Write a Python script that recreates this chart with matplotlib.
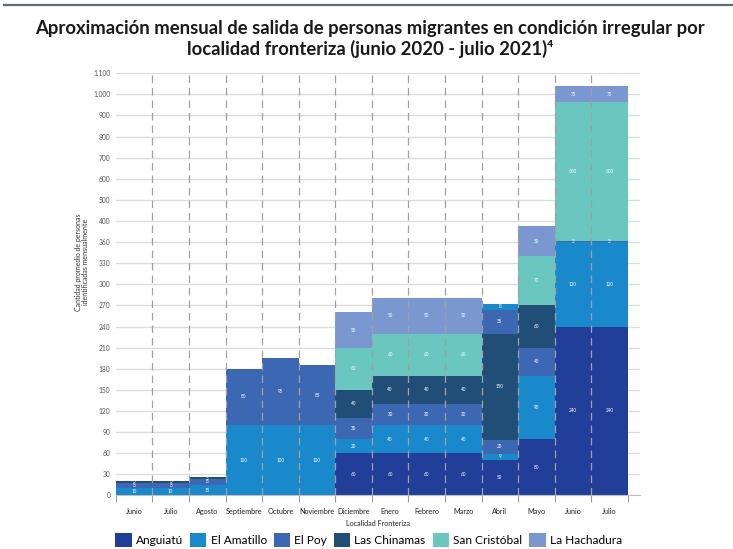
import numpy as np
import matplotlib
matplotlib.use("Agg")
import matplotlib.pyplot as plt
from matplotlib.patches import Patch
from matplotlib.lines import Line2D

plt.rcParams['font.family'] = ['Lato', 'DejaVu Sans']

months = ["Junio", "Julio", "Agosto", "Septiembre", "Octubre", "Noviembre", "Diciembre",
          "Enero", "Febrero", "Marzo", "Abril", "Mayo", "Junio", "Julio"]

anguiatu      = [0, 0, 0, 0, 0, 0, 60, 60, 60, 60, 50, 80, 240, 240]
el_amatillo   = [10, 10, 15, 100, 100, 100, 20, 40, 40, 40, 9, 90, 120, 120]
el_poy        = [8, 8, 8, 80, 95, 85, 30, 30, 30, 30, 20, 40, 3, 3]
las_chinamas  = [3, 3, 3, 0, 0, 0, 40, 40, 40, 40, 150, 60, 0, 0]
san_cristobal = [0, 0, 0, 0, 0, 0, 60, 60, 60, 60, 0, 70, 600, 600]
la_hachadura  = [0, 0, 0, 0, 0, 0, 50, 50, 50, 50, 0, 50, 75, 75]
# extra segments stacked on top in April (as drawn in the original)
extra_el_poy      = [0] * 10 + [35] + [0] * 3
extra_el_amatillo = [0] * 10 + [8] + [0] * 3

ytick_vals = [0, 30, 60, 90, 120, 150, 180, 210, 240, 270, 300, 330, 360,
              400, 500, 600, 700, 800, 900, 1000, 1100]
ytick_labels = ["0", "30", "60", "90", "120", "150", "180", "210", "240", "270", "300",
                "330", "360", "400", "500", "600", "700", "800", "900", "1.000", "1.100"]

colors = {
    "Anguiatú": "#213f98",
    "El Amatillo": "#1a89cb",
    "El Poy": "#3c67b2",
    "Las Chinamas": "#214e77",
    "San Cristóbal": "#69c7bf",
    "La Hachadura": "#7a97d0",
}

layers = [
    ("Anguiatú", anguiatu),
    ("El Amatillo", el_amatillo),
    ("El Poy", el_poy),
    ("Las Chinamas", las_chinamas),
    ("San Cristóbal", san_cristobal),
    ("La Hachadura", la_hachadura),
    ("El Poy", extra_el_poy),
    ("El Amatillo", extra_el_amatillo),
]

idx = np.arange(len(ytick_vals), dtype=float)
tv = np.array(ytick_vals, dtype=float)

def fwd(v):
    return np.interp(v, tv, idx)

def inv(u):
    return np.interp(u, idx, tv)

fig = plt.figure(figsize=(7.33, 5.49), dpi=100)
ax = fig.add_axes([0.158, 0.0978, 0.715, 0.7687])
ax.set_yscale('function', functions=(fwd, inv))

x = np.arange(len(months))
bottom = np.zeros(len(months))
for name, vals in layers:
    vals = np.array(vals, dtype=float)
    ax.bar(x, vals, bottom=bottom, width=1.0, color=colors[name], zorder=2, linewidth=0)
    for i, v in enumerate(vals):
        if v > 0:
            b, t = bottom[i], bottom[i] + v
            ymid = inv((fwd(b) + fwd(t)) / 2)
            ax.text(x[i], ymid, f"{int(v)}", ha='center', va='center',
                    color='white', fontsize=3.3, zorder=4)
    bottom += vals

ax.set_xlim(-0.5, len(months) - 0.5 + 0.33)
ax.set_ylim(0, 1100)
ax.set_yticks(ytick_vals)
ax.set_yticklabels(ytick_labels)
ax.set_xticks(x)
ax.set_xticklabels(months)
ax.set_xticks(np.arange(-0.5, len(months)), minor=True)
ax.tick_params(axis='x', which='major', length=0, labelsize=5.2, pad=9, colors='#222222')
ax.tick_params(axis='x', which='minor', length=5, width=0.8, color='#9a9a9a')
ax.tick_params(axis='y', length=0, labelsize=4.8, pad=4, labelcolor='#555555')

ax.yaxis.grid(True, color='#dcdcdc', linewidth=1.0, zorder=0)
ax.set_axisbelow(True)
for s in ['top', 'right', 'left']:
    ax.spines[s].set_visible(False)
ax.spines['bottom'].set_color('#bfbfbf')

ax.vlines(np.arange(0.5, len(months) - 1), 0, 1100, colors='#a0a0a0', linewidth=0.9,
          linestyles=(0, (6, 4)), zorder=3)

ax.set_xlabel("Localidad Fronteriza", fontsize=5.2, labelpad=4, color='#222222')
fig.text(0.112, 1 - 262 / 549, "Cantidad promedio de personas\nidentificadas mensualmente",
         rotation=90, ha='center', va='center', fontsize=5, color='#333333',
         linespacing=1.1)

fig.text(0.505, 1 - 39 / 549,
         "Aproximación mensual de salida de personas migrantes en condición irregular por\n"
         "localidad fronteriza (junio 2020 - julio 2021)\u2074",
         ha='center', va='center', fontsize=13.3, fontweight='bold', color='#1a1a1a',
         linespacing=1.2)

fig.add_artist(Line2D([0.005, 1.0], [1 - 4.5 / 549, 1 - 4.5 / 549], color='#5f6b73',
                      linewidth=1.6, transform=fig.transFigure))

handles = [Patch(facecolor=colors[n], label=n) for n in
           ["Anguiatú", "El Amatillo", "El Poy", "Las Chinamas", "San Cristóbal", "La Hachadura"]]
fig.legend(handles=handles, loc='center', bbox_to_anchor=(0.503, 1 - 540 / 549), ncol=6,
           frameon=False, fontsize=8.6, handlelength=1.35, handleheight=1.35,
           handletextpad=0.35, columnspacing=0.6, borderaxespad=0)

fig.savefig("out.png", dpi=100)
